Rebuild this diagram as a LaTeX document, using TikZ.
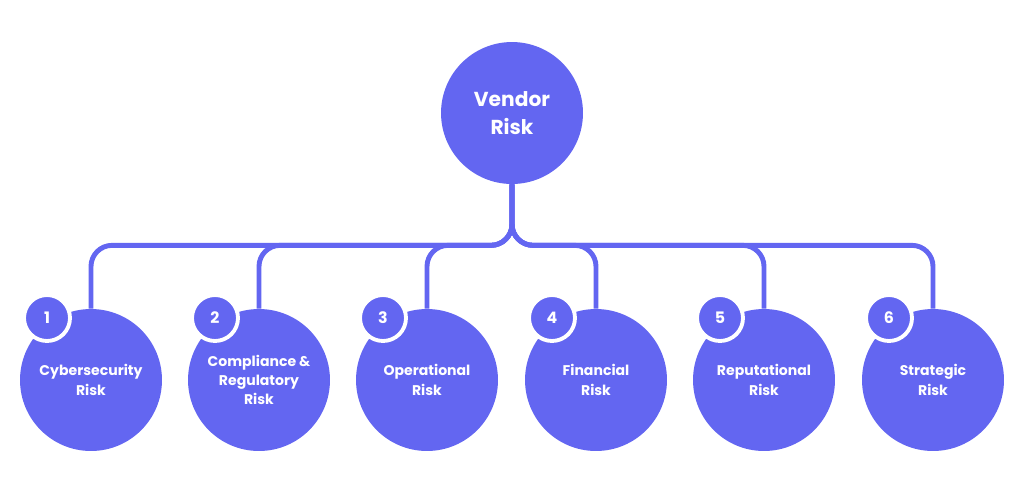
\documentclass[tikz,border=0pt]{standalone}
\usepackage{fontspec}
\setmainfont{Poppins}
\definecolor{vendorblue}{RGB}{99,102,241}
\begin{document}
\begin{tikzpicture}[x=0.02cm,y=-0.02cm]
            % Styles
            \tikzset{risk/.style={circle, fill=vendorblue, minimum size=2.84cm, inner sep=0pt, text=white, align=center, font=\fontsize{8}{11}\selectfont\bfseries},
                     badge/.style={circle, fill=vendorblue, draw=white, line width=2.2pt, minimum size=0.92cm, inner sep=0pt, text=white, font=\fontsize{9}{10}\selectfont\bfseries},
                     link/.style={draw=vendorblue, line width=2.8pt, rounded corners=12}}
            \useasboundingbox (0,0) rectangle (1024,491);
            % Top node
            \node[risk, font=\fontsize{11.5}{16}\selectfont\bfseries] (vendor) at (512,113) {Vendor\\Risk};
            % Risk nodes
            \node[risk] (cyber) at (91,380) {Cybersecurity\\Risk};
            \node[risk] (compliance) at (259,380) {Compliance \&\\Regulatory\\Risk};
            \node[risk] (operational) at (427,380) {Operational\\Risk};
            \node[risk] (financial) at (596,380) {Financial\\Risk};
            \node[risk] (reputational) at (764,380) {Reputational\\Risk};
            \node[risk] (strategic) at (933,380) {Strategic\\Risk};
            % Connections
            \foreach \n in {cyber, compliance, operational, financial, reputational, strategic}
                \draw[link] (vendor.south) -- ++(0,61) -| (\n.north);
            % Number badges
            \node[badge] (b1) at (47,318) {1};
            \node[badge] (b2) at (215,318) {2};
            \node[badge] (b3) at (383,318) {3};
            \node[badge] (b4) at (552,318) {4};
            \node[badge] (b5) at (720,318) {5};
            \node[badge] (b6) at (889,318) {6};
\end{tikzpicture}
\end{document}
